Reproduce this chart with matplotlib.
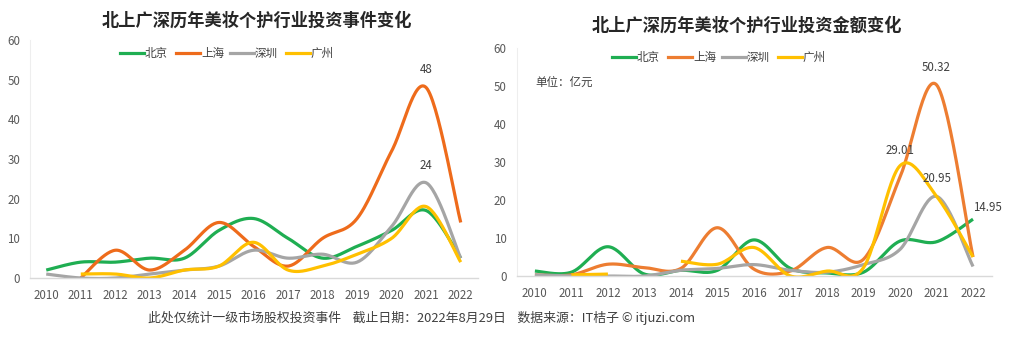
import numpy as np
import matplotlib
matplotlib.use("Agg")
import matplotlib.pyplot as plt
from matplotlib.lines import Line2D

plt.rcParams['font.family'] = ['Noto Sans CJK SC', 'DejaVu Sans']

years = ["2010", "2011", "2012", "2013", "2014", "2015", "2016",
         "2017", "2018", "2019", "2020", "2021", "2022"]
cities = ["北京", "上海", "深圳", "广州"]
nan = np.nan

# 投资事件数
events_bj = [2, 4, 4, 5, 5, 12, 15, 10, 5, 8, 12, 17, 5]
events_sh = [nan, 0, 7, 2, 7, 14, 8, 3, 10, 15, 32, 48, 14]
events_sz = [1, 0, 0, 1, 2, 3, 7, 5, 6, 4, 13, 24, 5]
events_gz = [nan, 1, 1, 0, 2, 3, 9, 2, 3, 6, 10, 18, 4]

# 投资金额（亿元）
amount_bj = [1.3, 1.0, 7.7, 0.5, 1.5, 1.5, 9.5, 2.0, 0.8, 1.0, 9.2, 9.0, 14.95]
amount_sh = [0.3, 0.3, 3.1, 2.2, 2.0, 12.7, 1.8, 1.3, 7.5, 4.4, 26.0, 50.32, 5.0]
amount_sz = [0.3, 0.0, 0.0, 0.0, 1.5, 2.0, 3.0, 1.5, 1.0, 3.0, 7.0, 20.95, 2.5]
amount_gz = [nan, 0.3, 0.5, nan, 3.9, 3.1, 7.5, 0.0, 1.3, 2.2, 29.01, 21.0, 5.0]

left_labels = [(11, 48, "48"), (11, 24, "24")]
right_labels = [(11, 50.32, "50.32"), (10, 29.01, "29.01"),
                (11, 20.95, "20.95"), (12, 14.95, "14.95")]

green, gray, yellow = '#1FAE52', '#A5A5A5', '#FFC000'
orange_l, orange_r = '#EE6B1B', '#ED7D31'


def smooth(xs, ys, n=30):
    xs = np.asarray(xs, float)
    ys = np.asarray(ys, float)
    if len(xs) < 2:
        return xs, ys
    px = np.concatenate([[xs[0]], xs, [xs[-1]]])
    py = np.concatenate([[ys[0]], ys, [ys[-1]]])
    ox, oy = [], []
    for i in range(1, len(px) - 2):
        p0x, p1x, p2x, p3x = px[i-1:i+3]
        p0y, p1y, p2y, p3y = py[i-1:i+3]
        c1x = p1x + (p2x - p0x) / 6; c1y = p1y + (p2y - p0y) / 6
        c2x = p2x - (p3x - p1x) / 6; c2y = p2y - (p3y - p1y) / 6
        t = np.linspace(0, 1, n)
        bx = (1-t)**3*p1x + 3*(1-t)**2*t*c1x + 3*(1-t)*t**2*c2x + t**3*p2x
        by = (1-t)**3*p1y + 3*(1-t)**2*t*c1y + 3*(1-t)*t**2*c2y + t**3*p2y
        ox.append(bx); oy.append(by)
    return np.concatenate(ox), np.concatenate(oy)


def plot_series(ax, vals, color):
    x = np.arange(len(vals))
    v = np.asarray(vals, float)
    ok = ~np.isnan(v)
    start = None
    for i in range(len(v) + 1):
        if i < len(v) and ok[i]:
            if start is None:
                start = i
        else:
            if start is not None:
                sx, sy = smooth(x[start:i], v[start:i])
                ax.plot(sx, sy, color=color, lw=2.3, solid_capstyle='butt',
                        solid_joinstyle='round')
                start = None


def style(ax, xlim, ypad):
    ax.set_xlim(*xlim)
    ax.set_ylim(0, 60)
    ax.set_yticks(range(0, 61, 10))
    ax.set_xticks(range(len(years)))
    ax.set_xticklabels(years)
    for s in ['top', 'right']:
        ax.spines[s].set_visible(False)
    ax.spines['left'].set_color('#EEEEEE')
    ax.spines['bottom'].set_color('#D9D9D9')
    ax.spines['bottom'].set_linewidth(1.0)
    ax.tick_params(axis='both', length=0, labelsize=8.3, colors='#595959')
    ax.tick_params(axis='x', pad=8)
    ax.tick_params(axis='y', pad=ypad)


fig = plt.figure(figsize=(10.09, 3.40), dpi=100)

axL = fig.add_axes([30/1009, 62/340, 448/1009, 238/340])
axR = fig.add_axes([517/1009, 64/340, 475/1009, 228/340])

for v, c in zip([events_bj, events_sh, events_sz, events_gz],
                [green, orange_l, gray, yellow]):
    plot_series(axL, v, c)
for v, c in zip([amount_bj, amount_sh, amount_sz, amount_gz],
                [green, orange_r, gray, yellow]):
    plot_series(axR, v, c)

style(axL, (-0.47, 12.5), 7)
style(axR, (-0.49, 12.52), 7.5)

for xi, yi, t in left_labels:
    axL.annotate(t, (xi, yi), xytext=(0, 8), textcoords='offset points',
                 ha='center', va='bottom', fontsize=8.3, color='#404040')
for xi, yi, t in right_labels:
    if t == "14.95":
        off = (10, 4)
    elif t == "29.01":
        off = (0, 6)
    else:
        off = (0, 8)
    axR.annotate(t, (xi, yi), xytext=off, textcoords='offset points',
                 ha='center', va='bottom', fontsize=8.3, color='#404040')

fig.text(257/1009, 1 - 21/340, "北上广深历年美妆个护行业投资事件变化",
         ha='center', va='center', fontsize=12.4, fontweight='bold',
         color='#262626')
fig.text(747/1009, 1 - 26/340, "北上广深历年美妆个护行业投资金额变化",
         ha='center', va='center', fontsize=12.4, fontweight='bold',
         color='#262626')


def legend(x0, y, colors):
    starts = [0, 56, 110, 166]
    for i, (name, c) in enumerate(zip(cities, colors)):
        xs = x0 + starts[i]
        fig.add_artist(Line2D([xs/1009, (xs+24)/1009], [1 - y/340, 1 - y/340],
                              color=c, lw=2.3, transform=fig.transFigure))
        fig.text((xs+25)/1009, 1 - y/340, name, ha='left', va='center',
                 fontsize=8.3, color='#404040')


legend(120, 53, [green, orange_l, gray, yellow])
legend(612, 57, [green, orange_r, gray, yellow])

fig.text(535/1009, 1 - 82/340, "单位：亿元", ha='left', va='center',
         fontsize=8.3, color='#404040')

fig.text(422/1009, 1 - 318/340,
         "此处仅统计一级市场股权投资事件    截止日期：2022年8月29日    数据来源：IT桔子 © itjuzi.com",
         ha='center', va='center', fontsize=9.3, color='#404040')

fig.savefig("out.png", dpi=100, facecolor='white')
